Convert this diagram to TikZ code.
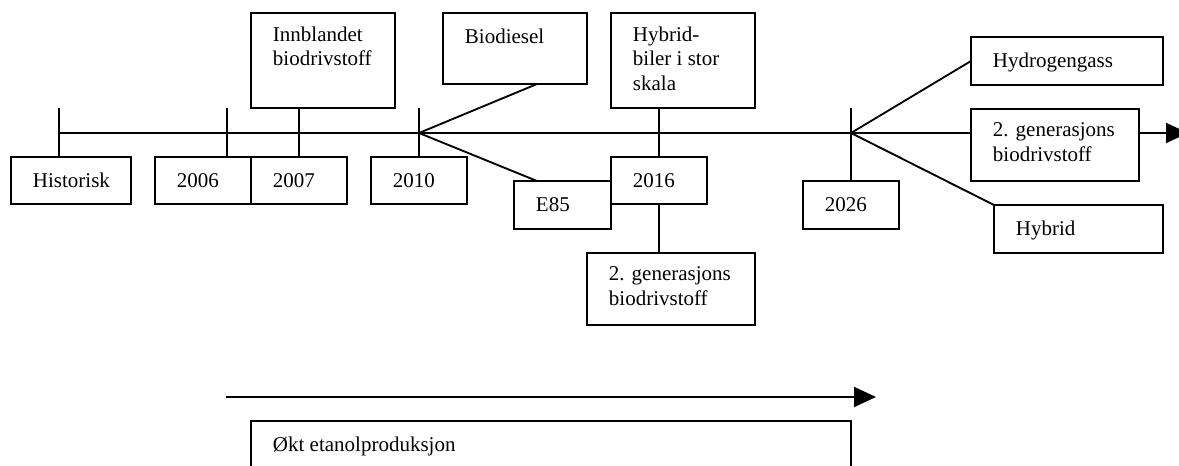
\documentclass[tikz,border=0pt]{standalone}
\usepackage{fontspec}
\setmainfont{Liberation Serif}
\usetikzlibrary{arrows.meta,calc}

% one framed box: name, left, top, width, height (all in px units), text
\newcommand\tlbox[6]{%
  \node[tlframe, minimum width=#4*0.75pt, minimum height=#5*0.75pt] (#1) at (#2,#3) {};
  \node[tltext] (#1-t) at ([shift={(21,12.8)}]#1.north west) {#6};}

\begin{document}
\begin{tikzpicture}[x=0.75pt, y=-0.75pt,
  line width=1.4pt,
  tlframe/.style={draw, fill=white, anchor=north west, inner sep=0pt, outer sep=0pt},
  tltext/.style={anchor=north west, inner sep=0pt, align=left,
    font=\fontsize{15.75pt}{18.4pt}\selectfont, execute at begin node=\strut},
  tip/.style={-{Triangle[length=16.5pt, width=15pt]}}]
\useasboundingbox (0,0) rectangle (1179,466);
\clip (0,0) rectangle (1179,466);

% branch points and tick tops on the time axis
\coordinate (start) at (59,133);
\coordinate (b2010) at (419,133);
\coordinate (b2026) at (851,133);
\coordinate (t2006) at (227,108);
\coordinate (end) at (1188,133);

% boxes along the axis
\tlbox{hist}{11}{157}{120}{47}{Historisk}
\tlbox{y2006}{155}{157}{96}{47}{2006}
\tlbox{y2007}{251}{157}{96}{47}{2007}
\tlbox{innb}{251}{13}{144}{95}{Innblandet\\biodrivstoff}
\tlbox{y2010}{371}{157}{96}{47}{2010}
\tlbox{bio}{443}{13}{144}{71}{Biodiesel}
\tlbox{e85}{514}{181}{97}{48}{E85}
\tlbox{y2016}{611}{157}{96}{47}{2016}
\tlbox{hyb}{611}{13}{144}{95}{Hybrid-\\biler i stor\\skala}
\tlbox{gen1}{587}{253}{168}{72}{2. generasjons\\biodrivstoff}
\tlbox{y2026}{803}{181}{96}{48}{2026}
\tlbox{hydro}{971}{37}{192}{48}{Hydrogengass}
\tlbox{gen2}{971}{109}{168}{72}{2. generasjons\\biodrivstoff}
\tlbox{hybrid}{994}{205}{169}{48}{Hybrid}
\tlbox{okt}{251}{421}{600}{70}{Økt etanolproduksjon}

% time axis
\draw (start) -- (start -| gen2.west);
\draw[tip] (gen2.east |- start) -- (end);

% ticks
\draw (start |- t2006) -- (hist.north -| start);
\draw (t2006) -- (t2006 |- y2006.north);
\draw (innb.south -| y2007.north) -- (y2007.north);
\draw (b2010 |- t2006) -- (y2010.north);
\draw (y2016.north |- hyb.south) -- (y2016.north);
\draw (y2016.south) -- (y2016.south |- gen1.north);
\draw (b2026 |- t2006) -- (y2026.north);

% branches
\draw (b2010) -- ($(bio.south west)!0.653!(bio.south east)$);
\draw (b2010) -- ($(e85.north west)!0.237!(e85.north east)$);
\draw (b2026) -- (hydro.west);
\draw (b2026) -- (hybrid.north west);

% production arrow
\coordinate (pa) at (226,397);
\coordinate (pb) at (876,397);
\draw[tip] (pa) -- (pb);
\end{tikzpicture}
\end{document}
